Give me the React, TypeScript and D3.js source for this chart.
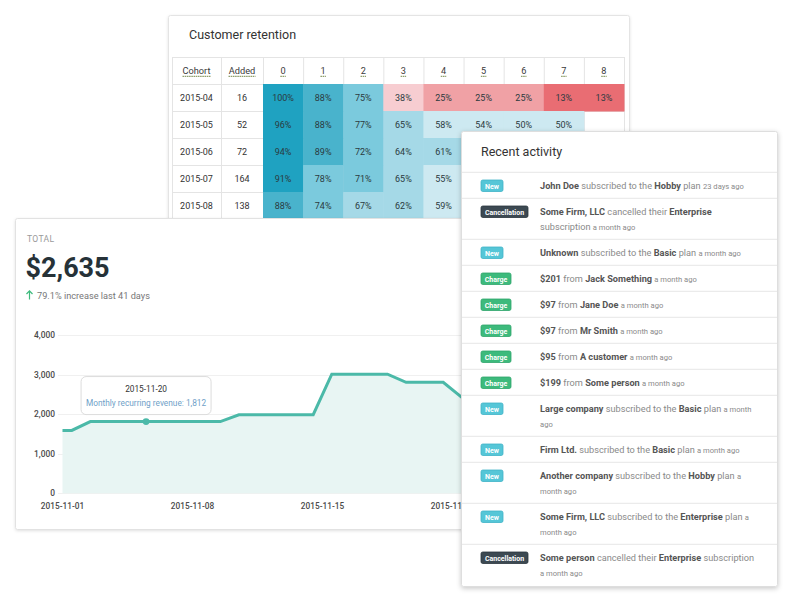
import * as d3 from "d3";

const FONT = "Roboto, 'Open Sans', Arial, sans-serif";

// ---- customer retention ----
const cohorts = ["2015-04", "2015-05", "2015-06", "2015-07", "2015-08"];
const cohortAdded = [16, 52, 72, 164, 138];
const periods = ["0", "1", "2", "3", "4", "5", "6", "7", "8"];
const retention: (number | null)[][] = [
    [100, 88, 75, 38, 25, 25, 25, 13, 13],
    [96, 88, 77, 65, 58, 54, 50, 50, null],
    [94, 89, 72, 64, 61],
    [91, 78, 71, 65, 55],
    [88, 74, 67, 62, 59],
];

// ---- revenue ----
const revenueDays = [
    "2015-10-31", "2015-11-01", "2015-11-02", "2015-11-03", "2015-11-04", "2015-11-05",
    "2015-11-06", "2015-11-07", "2015-11-08", "2015-11-09", "2015-11-10", "2015-11-11",
    "2015-11-12", "2015-11-13", "2015-11-14", "2015-11-15", "2015-11-16", "2015-11-17",
    "2015-11-18", "2015-11-19", "2015-11-20", "2015-11-21", "2015-11-22",
];
const revenueValues = [
    1590, 1590, 1812, 1812, 1812, 1812, 1812, 1812, 1812, 1812, 1985, 1985, 1985, 1985,
    1985, 3010, 3010, 3010, 3010, 2805, 2805, 2805, 2425,
];
const yTicks = [0, 1000, 2000, 3000, 4000];
const xTicks = ["2015-11-01", "2015-11-08", "2015-11-15", "2015-11-22"];
const highlightDay = "2015-11-05";
const tooltipDate = "2015-11-20";
const tooltipValue = 1812;

// ---- recent activity ----
const activityKinds = [
    "New", "Cancellation", "New", "Charge", "Charge", "Charge", "Charge",
    "Charge", "New", "New", "New", "New", "Cancellation",
];
const activityTexts = [
    "**John Doe** subscribed to the **Hobby** plan _23 days ago_",
    "**Some Firm, LLC** cancelled their **Enterprise**|subscription _a month ago_",
    "**Unknown** subscribed to the **Basic** plan _a month ago_",
    "**$201** from **Jack Something** _a month ago_",
    "**$97** from **Jane Doe** _a month ago_",
    "**$97** from **Mr Smith** _a month ago_",
    "**$95** from **A customer** _a month ago_",
    "**$199** from **Some person** _a month ago_",
    "**Large company** subscribed to the **Basic** plan _a month_|_ago_",
    "**Firm Ltd.** subscribed to the **Basic** plan _a month ago_",
    "**Another company** subscribed to the **Hobby** plan _a_|_month ago_",
    "**Some Firm, LLC** subscribed to the **Enterprise** plan _a_|_month ago_",
    "**Some person** cancelled their **Enterprise** subscription|_a month ago_",
];

const badgeStyle: Record<string, { fill: string; stroke: string; w: number }> = {
    New: { fill: "#55c6d7", stroke: "#3fb3c6", w: 22 },
    Charge: { fill: "#3dba7c", stroke: "#2ea56b", w: 30 },
    Cancellation: { fill: "#3c4952", stroke: "#2a353c", w: 47 },
};

const heatColor = d3
    .scaleThreshold<number, string>()
    .domain([20, 30, 50, 60, 70, 80, 90])
    .range(["#e96d73", "#f0a1a5", "#f7cdd1", "#cde9f1", "#a5d9e7", "#7bcadd", "#49b3cc", "#1fa2c1"]);

function parseLine(line: string) {
    return line
        .split(/(\*\*[^*]+\*\*|_[^_]+_)/)
        .filter((s) => s.length)
        .map((s) => {
            if (s.startsWith("**")) return { kind: "b", t: s.slice(2, -2) };
            if (s.startsWith("_")) return { kind: "t", t: s.slice(1, -1) };
            return { kind: "n", t: s };
        });
}

function RetentionCard() {
    const left = 172;
    const colCohort = [172, 221];
    const colAdded = [221, 263];
    const x = d3.scaleBand().domain(periods).range([263, 624]);
    const y = d3.scaleBand().domain(["head", ...cohorts]).range([57, 219]);
    const rowH = y.bandwidth();
    const right = 624;
    const vlines = [left, colAdded[0], ...periods.map((p) => x(p)!), right];
    const hlines = [57, ...cohorts.map((c) => y(c)!), 219];
    const headY = y("head")! + rowH / 2;
    const underW: Record<string, number> = { Cohort: 28, Added: 27 };
    const headers = [
        { label: "Cohort", cx: (colCohort[0] + colCohort[1]) / 2 },
        { label: "Added", cx: (colAdded[0] + colAdded[1]) / 2 },
        ...periods.map((p) => ({ label: p, cx: x(p)! + x.bandwidth() / 2 })),
    ];
    return (
        <g>
            <rect x={168.5} y={15.5} width={461} height={230} rx={2} fill="#fff" stroke="#e4e4e4" filter="url(#shadowSoft)" />
            <text x={189} y={39} fontSize={12.5} fill="#333">Customer retention</text>
            {hlines.map((v, i) => (
                <line key={"h" + i} x1={left} x2={right} y1={v + 0.5} y2={v + 0.5} stroke="#e4e4e4" />
            ))}
            {vlines.map((v, i) => (
                <line key={"v" + i} x1={v + 0.5} x2={v + 0.5} y1={57} y2={219} stroke="#e4e4e4" />
            ))}
            {headers.map((h) => {
                const w = underW[h.label] ?? 5.5;
                return (
                    <g key={h.label}>
                        <text x={h.cx} y={headY + 3.5} textAnchor="middle" fontSize={9.2} fill="#3a3a3a">{h.label}</text>
                        <line x1={h.cx - w / 2} x2={h.cx + w / 2} y1={headY + 5.8} y2={headY + 5.8} stroke="#74884a" strokeDasharray="1.6 0.6" strokeWidth={1} />
                    </g>
                );
            })}
            {cohorts.map((c, ri) => {
                const ry = y(c)!;
                const cy = ry + rowH / 2 + 3;
                return (
                    <g key={c}>
                        <text x={(colCohort[0] + colCohort[1]) / 2} y={cy} textAnchor="middle" fontSize={9} fill="#333">{c}</text>
                        <text x={(colAdded[0] + colAdded[1]) / 2} y={cy} textAnchor="middle" fontSize={9} fill="#333">{cohortAdded[ri]}</text>
                        {retention[ri].map((v, ci) =>
                            v == null ? null : (
                                <g key={ci}>
                                    <rect x={x(periods[ci])!} y={ry} width={x.bandwidth() + 0.5} height={rowH + 0.5} fill={heatColor(v)} />
                                    <text x={x(periods[ci])! + x.bandwidth() / 2} y={cy} textAnchor="middle" fontSize={9} fill="#2b3a40">{v}%</text>
                                </g>
                            ),
                        )}
                    </g>
                );
            })}
        </g>
    );
}

function TotalCard() {
    const parse = d3.utcParse("%Y-%m-%d");
    const x = d3
        .scaleUtc()
        .domain([parse("2015-11-01")!, parse("2015-11-22")!])
        .range([62.5, 452.5]);
    const y = d3.scaleLinear().domain([0, 4000]).range([493.3, 335]);
    const pts = revenueDays.map((d, i) => ({ date: d3.utcHour.offset(parse(d)!, 12), v: revenueValues[i] }));
    const line = d3.line<{ date: Date; v: number }>().x((d) => x(d.date)).y((d) => y(d.v));
    const area = d3
        .area<{ date: Date; v: number }>()
        .x((d) => x(d.date))
        .y0(y(0))
        .y1((d) => y(d.v));
    const hx = x(d3.utcHour.offset(parse(highlightDay)!, 12));
    const hy = y(tooltipValue);
    const tipW = 130;
    const tipH = 38;
    return (
        <g>
            <rect x={15.5} y={218.5} width={470} height={311} rx={2} fill="#fff" stroke="#e2e2e2" filter="url(#shadowSoft)" />
            <text x={27} y={241.5} fontSize={8.6} fill="#9a9a9a" letterSpacing={0.3}>TOTAL</text>
            <text x={25.5} y={276.5} fontSize={27} fontWeight={700} fill="#263238">$2,635</text>
            <path d="M29.5,299.5 V291 M26.5,294 L29.5,290.8 L32.5,294" fill="none" stroke="#3dba7c" strokeWidth={1.2} />
            <text x={37} y={298.5} fontSize={9.2} fill="#777">79.1% increase last 41 days</text>
            <defs>
                <clipPath id="plotClip">
                    <rect x={62.5} y={320} width={420} height={180} />
                </clipPath>
            </defs>
            {yTicks.map((t) => (
                <g key={t}>
                    <line x1={58} x2={484} y1={Math.round(y(t)) + 0.5} y2={Math.round(y(t)) + 0.5} stroke="#f0f0f0" />
                    <text x={55} y={y(t) + 3} textAnchor="end" fontSize={8.4} fill="#4a4a4a" fontWeight={500}>
                        {d3.format(",")(t)}
                    </text>
                </g>
            ))}
            <g clipPath="url(#plotClip)">
                <path d={area(pts)!} fill="#e8f5f3" />
                <path d={line(pts)!} fill="none" stroke="#4bb9a8" strokeWidth={3} />
            </g>
            {xTicks.map((t) => (
                <text key={t} x={x(parse(t)!)} y={509} textAnchor="middle" fontSize={8.3} fill="#4a4a4a" fontWeight={500}>
                    {t}
                </text>
            ))}
            <circle cx={hx} cy={hy} r={3.4} fill="#4bb9a8" />
            <rect x={hx - tipW / 2} y={hy - 7 - tipH} width={tipW} height={tipH} rx={5} fill="#fff" fillOpacity={0.9} stroke="#dcdcdc" />
            <text x={hx} y={hy - 7 - tipH + 15} textAnchor="middle" fontSize={8.3} fill="#333">{tooltipDate}</text>
            <text x={hx} y={hy - 7 - tipH + 29.5} textAnchor="middle" fontSize={8.3} fill="#6f9fc8">
                Monthly recurring revenue: {d3.format(",")(tooltipValue)}
            </text>
        </g>
    );
}

function ActivityCard() {
    const cardX = 461;
    const cardW = 316;
    const headerBottom = 172.3;
    const rows = activityTexts.map((t) => t.split("|").map(parseLine));
    let top = headerBottom;
    const placed = rows.map((lines, i) => {
        const h = 11 + 15 * lines.length;
        const r = { top, h, lines, kind: activityKinds[i] };
        top += h;
        return r;
    });
    const style: Record<string, { fill: string; size: number; weight: number }> = {
        b: { fill: "#555", size: 9.2, weight: 700 },
        n: { fill: "#8a8a8a", size: 9.2, weight: 400 },
        t: { fill: "#8a8a8a", size: 7.6, weight: 400 },
    };
    return (
        <g>
            <rect x={cardX + 0.5} y={131.5} width={cardW} height={455} rx={2} fill="#fff" stroke="#dedede" filter="url(#shadowStrong)" />
            <text x={481} y={155.5} fontSize={12.5} fill="#333">Recent activity</text>
            <line x1={cardX + 1} x2={cardX + cardW} y1={headerBottom} y2={headerBottom} stroke="#e6e6e6" />
            {placed.map((r, i) => {
                const b = badgeStyle[r.kind];
                return (
                    <g key={i}>
                        {i < placed.length - 1 && (
                            <line x1={cardX + 1} x2={cardX + cardW} y1={r.top + r.h} y2={r.top + r.h} stroke="#e6e6e6" />
                        )}
                        <rect x={481} y={r.top + 7.7} width={b.w} height={11.5} rx={1.8} fill={b.fill} stroke={b.stroke} strokeWidth={0.8} />
                        <text x={481 + b.w / 2} y={r.top + 16.2} textAnchor="middle" fontSize={7} fontWeight={700} fill="#fff">
                            {r.kind}
                        </text>
                        {r.lines.map((segs, li) => (
                            <text key={li} x={540} y={r.top + 16.2 + li * 15} style={{ whiteSpace: "pre" }}>
                                {segs.map((s, si) => (
                                    <tspan key={si} fill={style[s.kind].fill} fontSize={style[s.kind].size} fontWeight={style[s.kind].weight}>
                                        {s.t}
                                    </tspan>
                                ))}
                            </text>
                        ))}
                    </g>
                );
            })}
        </g>
    );
}

export default function App() {
    return (
        <svg
            width={792}
            height={600}
            viewBox="0 0 792 600"
            style={{ position: "absolute", left: 0, top: 0, background: "#fff" }}
            fontFamily={FONT}
        >
            <defs>
                <filter id="shadowSoft" x="-10%" y="-10%" width="120%" height="120%">
                    <feDropShadow dx={0} dy={1} stdDeviation={1.5} floodColor="#000" floodOpacity={0.12} />
                </filter>
                <filter id="shadowStrong" x="-10%" y="-10%" width="120%" height="120%">
                    <feDropShadow dx={0} dy={1.5} stdDeviation={2.5} floodColor="#000" floodOpacity={0.22} />
                </filter>
            </defs>
            <rect width={792} height={600} fill="#fff" />
            <RetentionCard />
            <TotalCard />
            <ActivityCard />
        </svg>
    );
}
